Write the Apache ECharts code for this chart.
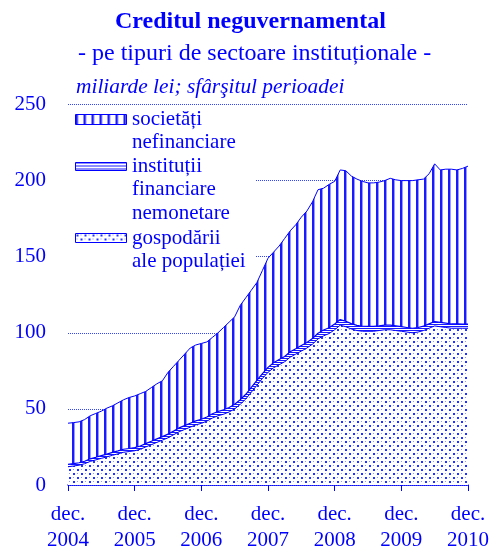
<!DOCTYPE html>
<html>
<head>
<meta charset="utf-8">
<script src="https://cdn.jsdelivr.net/npm/echarts@6/dist/echarts.min.js"></script>
<style>
  html, body { margin: 0; padding: 0; background: #fff; }
  #main { width: 490px; height: 546px; }
</style>
</head>
<body>
<div id="main"></div>
<script>
// luni dec. 2004 - dec. 2010, miliarde lei
var startYear = 2004;
var monthNames = ['ian.', 'feb.', 'mar.', 'apr.', 'mai', 'iun.', 'iul.', 'aug.', 'sep.', 'oct.', 'nov.', 'dec.'];
var yTicks = [0, 50, 100, 150, 200, 250];

// gospodarii ale populatiei
var gospodarii = [12, 12.5, 13, 14, 15.5, 16.5, 17.5, 18.5, 19.5, 20.5, 21.5, 22,
    22.5, 23.5, 25, 26.5, 28, 29.5, 31, 33, 35, 36.5, 38, 39.5,
    40.5, 42, 44, 45.5, 46.5, 48, 50, 53, 56.5, 61, 65.5, 70,
    74, 77, 79, 81, 84, 86, 88, 90, 92.5, 96, 98, 99.5,
    102, 105, 104, 102.5, 101.5, 101, 101, 101, 101.5, 102, 102, 101.5,
    101, 100.5, 100, 100.5, 101.5, 103, 104.5, 104, 103.5, 103, 103, 103,
    103];
// institutii financiare nemonetare
var institutii = [1.5, 1.5, 1.6, 1.6, 1.7, 1.7, 1.8, 1.8, 1.9, 1.9, 2, 2,
    2.1, 2.1, 2.2, 2.2, 2.3, 2.3, 2.4, 2.4, 2.5, 2.5, 2.6, 2.6,
    2.7, 2.7, 2.8, 2.8, 2.9, 2.9, 3, 3, 3.1, 3.1, 3.2, 3.2,
    3.3, 3.3, 3.4, 3.4, 3.5, 3.5, 3.6, 3.6, 3.7, 3.7, 3.8, 3.8,
    3.8, 3.7, 3.6, 3.5, 3.4, 3.3, 3.2, 3.2, 3.1, 3.1, 3, 3,
    3, 3, 3, 3, 2.9, 2.9, 2.9, 2.8, 2.8, 2.8, 2.8, 2.7,
    2.7];
// societati nefinanciare
var societati = [27.1, 27, 26.9, 27.4, 28.3, 28.8, 29.2, 30.2, 30.6, 31.6, 32.5, 33.5,
    33.9, 34.4, 34.3, 35.3, 36.2, 36.7, 40.6, 42.6, 44.5, 47, 49.4, 49.9,
    49.8, 49.3, 50.2, 51.7, 54.1, 56.1, 57.5, 62, 63.4, 63.9, 64.3, 67.8,
    71.7, 72.7, 74.6, 77.6, 79.5, 81.5, 84.4, 86.4, 89.8, 94.3, 93.2, 94.2,
    93.7, 98.3, 98.9, 97, 96.1, 95.2, 94.3, 94.3, 94.4, 94.9, 96.5, 96,
    96, 96.5, 97, 97, 96.6, 98.6, 103.6, 100.2, 101.2, 101.7, 101.2, 102.3,
    103.8];

var categories = [];
for (var i = 0; i < gospodarii.length; i++) {
    var m = (11 + i) % 12;
    var y = startYear + Math.floor((11 + i) / 12);
    categories.push(monthNames[m] + ' ' + y);
}

var BLUE = '#0000ff';
var FONT = '"Liberation Serif", "Times New Roman", serif';

function makeTile(w, h, draw) {
    var c = document.createElement('canvas');
    c.width = w;
    c.height = h;
    var ctx = c.getContext('2d');
    ctx.fillStyle = '#ffffff';
    ctx.fillRect(0, 0, w, h);
    draw(ctx);
    return c;
}
var patVert = makeTile(8, 4, function (ctx) {
    ctx.fillStyle = '#1a1aff';
    ctx.fillRect(0, 0, 2, 4);
    ctx.fillStyle = '#9999ff';
    ctx.fillRect(2, 0, 1, 4);
});
var patHoriz = makeTile(4, 2, function (ctx) {
    ctx.fillStyle = '#1a1aff';
    ctx.fillRect(0, 0, 4, 1);
});
var patHorizLegend = makeTile(4, 3, function (ctx) {
    ctx.fillStyle = '#1a1aff';
    ctx.fillRect(0, 0, 4, 1);
});
var patDots = makeTile(8, 8, function (ctx) {
    ctx.fillStyle = '#2233ff';
    ctx.fillRect(1, 1, 2, 2);
    ctx.fillRect(5, 5, 2, 2);
    ctx.fillStyle = '#8f9aff';
    ctx.fillRect(5, 1, 1, 1);
    ctx.fillRect(1, 5, 1, 1);
});

var myChart = echarts.init(document.getElementById('main'));

function legendText(x, y, t) {
    return { type: 'text', left: x, top: y, z: 11,
        style: { text: t, fill: BLUE, font: '21px ' + FONT } };
}
function legendBox(y, h, pat) {
    return { type: 'rect', left: 75, top: y, z: 11,
        shape: { width: 51, height: h },
        style: { fill: { image: pat, repeat: 'repeat' }, stroke: BLUE, lineWidth: 1 } };
}

var option = {
    animation: false,
    backgroundColor: '#ffffff',
    grid: { left: 68, right: 22, top: 104.5, bottom: 61, containLabel: false, outerBoundsMode: 'none' },
    xAxis: {
        type: 'category',
        boundaryGap: false,
        data: categories,
        axisLine: { lineStyle: { color: BLUE, width: 1.5 } },
        axisTick: {
            length: 6,
            interval: function (idx) { return idx % 12 === 0; },
            lineStyle: { color: BLUE, width: 1 }
        },
        axisLabel: {
            interval: function (idx) { return idx % 12 === 0; },
            formatter: function (v) { return v.replace(' ', '\n'); },
            color: BLUE,
            fontFamily: FONT,
            fontSize: 21,
            lineHeight: 26,
            margin: 16,
            showMaxLabel: true
        },
        splitLine: { show: false }
    },
    yAxis: {
        type: 'value',
        min: yTicks[0],
        max: yTicks[yTicks.length - 1],
        interval: 50,
        axisLine: { show: false },
        axisTick: { show: false },
        axisLabel: { color: BLUE, fontFamily: FONT, fontSize: 21, margin: 22 },
        splitLine: { lineStyle: { color: '#3344ff', width: 1, type: [1, 1] } }
    },
    series: [{
        name: 'gospodării ale populației',
        type: 'line',
        stack: 'total',
        symbol: 'none',
        data: gospodarii,
        lineStyle: { color: BLUE, width: 1 },
        areaStyle: { color: { image: patDots, repeat: 'repeat' }, opacity: 1 }
    }, {
        name: 'instituții financiare nemonetare',
        type: 'line',
        stack: 'total',
        symbol: 'none',
        data: institutii,
        lineStyle: { color: BLUE, width: 1.2 },
        areaStyle: { color: { image: patHoriz, repeat: 'repeat' }, opacity: 1 }
    }, {
        name: 'societăți nefinanciare',
        type: 'line',
        stack: 'total',
        symbol: 'none',
        data: societati,
        lineStyle: { color: BLUE, width: 1 },
        areaStyle: { color: { image: patVert, repeat: 'repeat' }, opacity: 1 }
    }],
    graphic: [
        { type: 'text', left: 115, top: 10, style: { text: 'Creditul neguvernamental', fill: BLUE, font: 'bold 24px ' + FONT } },
        { type: 'text', left: 78, top: 42, style: { text: '- pe tipuri de sectoare instituționale -', fill: BLUE, font: '24px ' + FONT } },
        { type: 'text', left: 76, top: 77, style: { text: 'miliarde lei; sfârşitul perioadei', fill: BLUE, font: 'italic 21.4px ' + FONT } },
        { type: 'rect', left: 66, top: 109, z: 10, shape: { width: 190, height: 163 }, style: { fill: '#ffffff' } },
        legendBox(114, 10, patVert),
        legendText(132, 108.5, 'societăți'),
        legendText(132, 131.5, 'nefinanciare'),
        legendBox(162, 8, patHorizLegend),
        legendText(132, 155.5, 'instituții'),
        legendText(132, 178.5, 'financiare'),
        legendText(132, 202.5, 'nemonetare'),
        legendBox(233, 9, patDots),
        legendText(132, 227.5, 'gospodării'),
        legendText(132, 250.5, 'ale populației')
    ]
};
myChart.setOption(option);
</script>
</body>
</html>
